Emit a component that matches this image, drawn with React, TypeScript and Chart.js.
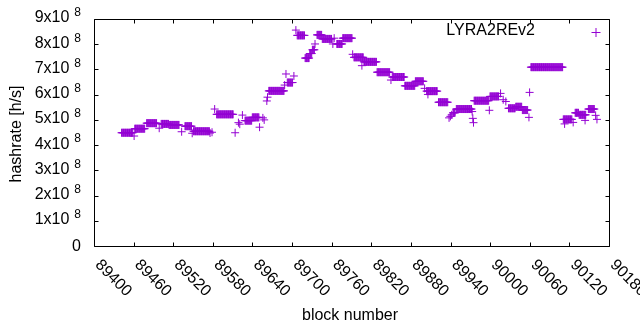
import { useEffect, useRef } from 'react';
import { Chart, registerables } from 'chart.js';

Chart.register(...registerables);

const SERIES_LABEL = 'LYRA2REv2';
const X_TITLE = 'block number';
const Y_TITLE = 'hashrate [h/s]';
const COLOR = '#9400D3';

const X_MIN = 89400;
const X_MAX = 90180;
const Y_MIN = 0;
const Y_MAX = 9e8;
const xTickValues = [89400, 89460, 89520, 89580, 89640, 89700, 89760, 89820, 89880, 89940, 90000, 90060, 90120, 90180];
const yTickMantissas = [0, 1, 2, 3, 4, 5, 6, 7, 8, 9];
const Y_EXPONENT = 8;

// Runs of blocks with a constant hashrate (value in units of 1e8 h/s).
const runStart = [
  89441, 89460, 89461, 89479, 89498, 89501, 89513, 89532, 89537, 89548,
  89550, 89575, 89578, 89582, 89585, 89613, 89618, 89620, 89624, 89628,
  89639, 89650, 89655, 89657, 89661, 89662, 89664, 89688, 89690, 89692,
  89702, 89705, 89707, 89719, 89726, 89730, 89734, 89737, 89745, 89761,
  89763, 89767, 89776, 89791, 89793, 89805, 89808, 89828, 89849, 89851,
  89870, 89886, 89900, 89903, 89905, 89921, 89937, 89939, 89941, 89943,
  89948, 89972, 89973, 89974, 89975, 89998, 89999, 90015, 90019, 90023,
  90027, 90038, 90048, 90058, 90059, 90061, 90110, 90112, 90125, 90128,
  90134, 90143, 90148, 90159, 90161,
];
const runEnd = [
  89458, 89460, 89476, 89494, 89498, 89512, 89528, 89532, 89547, 89548,
  89574, 89575, 89578, 89582, 89610, 89613, 89618, 89620, 89624, 89638,
  89649, 89650, 89655, 89657, 89661, 89662, 89687, 89688, 89690, 89700,
  89702, 89705, 89718, 89725, 89729, 89733, 89734, 89744, 89759, 89761,
  89763, 89775, 89790, 89791, 89807, 89805, 89827, 89847, 89849, 89869,
  89885, 89898, 89900, 89919, 89905, 89935, 89937, 89939, 89941, 89946,
  89971, 89972, 89973, 89974, 89997, 89998, 90012, 90015, 90019, 90023,
  90037, 90047, 90056, 90058, 90059, 90109, 90123, 90112, 90125, 90133,
  90144, 90143, 90157, 90159, 90161,
];
const runValue = [
  4.51, 4.38, 4.67, 4.89, 4.69, 4.86, 4.82, 4.55, 4.77, 4.49,
  4.57, 4.50, 4.53, 5.45, 5.24, 4.51, 4.91, 4.85, 5.21, 4.99,
  5.12, 4.73, 5.10, 5.02, 5.77, 5.92, 6.17, 6.40, 6.84, 6.50,
  6.76, 8.58, 8.37, 7.47, 7.65, 7.80, 8.03, 8.39, 8.23, 8.03,
  8.26, 8.03, 8.26, 7.62, 7.50, 7.17, 7.32, 6.91, 6.60, 6.72,
  6.37, 6.55, 6.27, 6.16, 6.03, 5.72, 5.10, 5.16, 5.22, 5.30,
  5.45, 5.35, 5.08, 4.91, 5.78, 5.40, 5.95, 6.07, 5.82, 5.75,
  5.48, 5.54, 5.41, 5.12, 6.11, 7.11, 5.04, 4.86, 4.92, 5.30,
  5.22, 5.00, 5.45, 5.20, 5.04,
];

const FONT = '"Liberation Sans", Arial, sans-serif';

function buildPoints() {
  const pts: { x: number; y: number }[] = [];
  for (let i = 0; i < runStart.length; i++) {
    for (let b = runStart[i]; b <= runEnd[i]; b++) {
      pts.push({ x: b, y: runValue[i] * 1e8 });
    }
  }
  return pts;
}

const crisp = (v: number) => Math.round(v - 0.5) + 0.5;

const gnuplotFrame = {
  id: 'gnuplotFrame',
  afterDraw(chart: any) {
    const { ctx, chartArea: a, scales } = chart;
    const xs = scales.x;
    const ys = scales.y;
    const TICK = 4;
    ctx.save();
    ctx.strokeStyle = '#000';
    ctx.lineWidth = 1;
    ctx.beginPath();
    ctx.rect(crisp(a.left), crisp(a.top), crisp(a.right) - crisp(a.left), crisp(a.bottom) - crisp(a.top));
    xTickValues.forEach((v) => {
      const x = crisp(xs.getPixelForValue(v));
      ctx.moveTo(x, crisp(a.bottom));
      ctx.lineTo(x, crisp(a.bottom) - TICK);
      ctx.moveTo(x, crisp(a.top));
      ctx.lineTo(x, crisp(a.top) + TICK);
    });
    yTickMantissas.forEach((m) => {
      const y = crisp(ys.getPixelForValue(m * Math.pow(10, Y_EXPONENT)));
      ctx.moveTo(crisp(a.left), y);
      ctx.lineTo(crisp(a.left) + TICK, y);
      ctx.moveTo(crisp(a.right), y);
      ctx.lineTo(crisp(a.right) - TICK, y);
    });
    ctx.stroke();

    ctx.fillStyle = '#000';
    // y tick labels
    const labelRight = 81;
    yTickMantissas.forEach((m) => {
      const y = ys.getPixelForValue(m * Math.pow(10, Y_EXPONENT));
      ctx.textBaseline = 'middle';
      ctx.textAlign = 'right';
      if (m === 0) {
        ctx.font = `16px ${FONT}`;
        ctx.fillText('0', labelRight, y);
      } else {
        ctx.font = `12px ${FONT}`;
        const sup = String(Y_EXPONENT);
        const supW = ctx.measureText(sup).width;
        ctx.fillText(sup, labelRight, y - 6.5);
        ctx.font = `16px ${FONT}`;
        ctx.fillText(`${m}x10`, labelRight - supW - 5, y - 1.5);
      }
    });

    // x tick labels, rotated clockwise
    ctx.font = `16px ${FONT}`;
    xTickValues.forEach((v) => {
      const x = xs.getPixelForValue(v);
      ctx.save();
      ctx.translate(x + 3, a.bottom + 16);
      ctx.rotate(Math.PI / 4);
      ctx.textAlign = 'left';
      ctx.textBaseline = 'middle';
      ctx.fillText(String(v), 0, 0);
      ctx.restore();
    });

    // axis titles
    ctx.textAlign = 'center';
    ctx.textBaseline = 'middle';
    ctx.fillText(X_TITLE, 350, 316);
    ctx.save();
    ctx.translate(17, 134);
    ctx.rotate(-Math.PI / 2);
    ctx.fillText(Y_TITLE, 0, 0);
    ctx.restore();

    // legend
    ctx.textAlign = 'right';
    ctx.fillText(SERIES_LABEL, 535, 31);
    ctx.strokeStyle = COLOR;
    ctx.beginPath();
    ctx.moveTo(591.5, 32.5);
    ctx.lineTo(600.5, 32.5);
    ctx.moveTo(596, 28);
    ctx.lineTo(596, 37);
    ctx.stroke();
    ctx.restore();
  },
};

export default function App() {
  const ref = useRef<HTMLCanvasElement | null>(null);
  useEffect(() => {
    document.body.style.margin = '0';
    const canvas = ref.current;
    if (!canvas) return;
    const chart = new Chart(canvas, {
      type: 'scatter',
      data: {
        datasets: [
          {
            label: SERIES_LABEL,
            data: buildPoints(),
            pointStyle: 'cross',
            pointRadius: 4,
            pointBorderWidth: 1,
            borderColor: COLOR,
            backgroundColor: COLOR,
            showLine: false,
          },
        ],
      },
      options: {
        responsive: false,
        animation: false,
        devicePixelRatio: 1,
        layout: { padding: { left: 94.5, right: 30.5, top: 19.5, bottom: 83.5 } },
        scales: {
          x: { type: 'linear', min: X_MIN, max: X_MAX, display: false },
          y: { type: 'linear', min: Y_MIN, max: Y_MAX, display: false },
        },
        plugins: { legend: { display: false }, tooltip: { enabled: false } },
      },
      plugins: [gnuplotFrame],
    });
    return () => chart.destroy();
  }, []);
  return (
    <div style={{ width: 640, height: 330, background: '#fff' }}>
      <canvas ref={ref} width={640} height={330} style={{ display: 'block' }} />
    </div>
  );
}
